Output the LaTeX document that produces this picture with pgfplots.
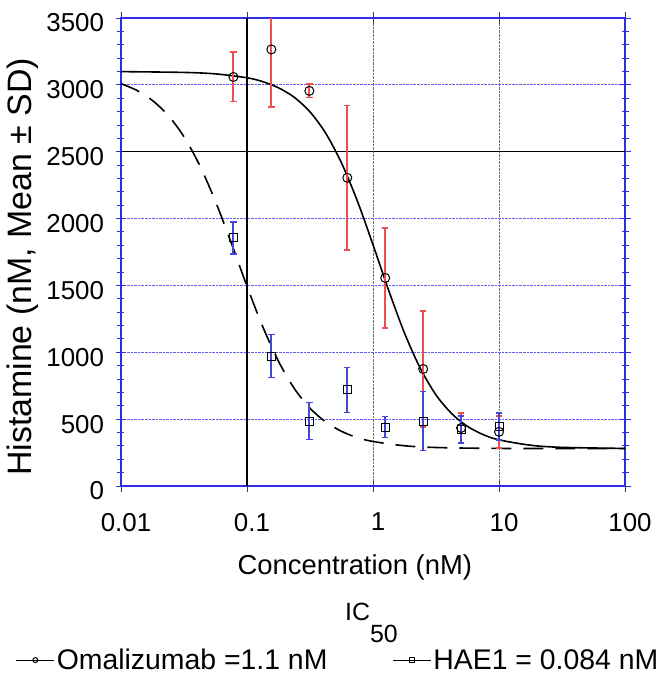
\documentclass[border=0pt]{standalone}
\usepackage{pgfplots}
\pgfplotsset{compat=1.18}
\usepackage{pgfplotstable}
\usepackage{fontspec}
\setmainfont{Liberation Sans}
\definecolor{axblue}{RGB}{45,45,225}
\definecolor{gridblue}{RGB}{95,95,235}
\definecolor{errred}{RGB}{235,80,80}
\definecolor{errblue}{RGB}{70,70,215}

% concentration, mean, SD
\pgfplotstableread{
x      y     e
0.078  3059  185
0.156  3265  430
0.3125 2955  50
0.625  2305  540
1.25   1556  375
2.5    875   434
5      434   112
10     405   120
}\omal

\pgfplotstableread{
x      y     e
0.078  1855  120
0.156  972   160
0.3125 486   140
0.625  718   170
1.25   441   80
2.5    486   220
5      422   100
10     445   100
}\haeone

\begin{document}
\begin{tikzpicture}
\path[use as bounding box] (-121bp,-189bp) rectangle (538bp,486bp);
\begin{axis}[
  at={(0,0)}, anchor=south west,
  scale only axis, width=504bp, height=468bp,
  xmode=log, xmin=0.01, xmax=100, ymin=0, ymax=3500,
  xtick={0.01,0.1,1,10,100}, xticklabels={0.01,0.1,1,10,100},
  ytick={0,500,...,3500},
  minor y tick num=4,
  minor x tick style={draw=none},
  axis line style={axblue, line width=1.5bp},
  tick style={axblue, line width=0.9bp},
  major tick length=11bp, minor tick length=7bp,
  tick align=center,
  grid=major,
  major grid style={gridblue, densely dotted, line width=1bp},
  /pgf/number format/1000 sep={},
  /pgf/number format/assume math mode=true,
  ticklabel style={font=\fontsize{26}{30}\selectfont},
  xticklabel style={xshift=5bp, yshift=-18bp},
  yticklabel style={yshift=-5bp, xshift=-8bp},
  xlabel={Concentration (nM)},
  ylabel={Histamine (nM, Mean \textpm{} SD)},
  xlabel style={font=\fontsize{27.5}{30}\selectfont, at={(axis description cs:0.464,-0.173)}, anchor=center},
  ylabel style={font=\fontsize{34}{36}\selectfont, at={(axis description cs:-0.194,0.468)}, anchor=center},
  legend style={at={(axis description cs:-0.215,-0.372)}, anchor=west, draw=none, fill=none,
    font=\fontsize{28.5}{31}\selectfont, legend columns=2,
    /tikz/every even column/.append style={column sep=63bp}},
  legend cell align=left,
  legend image code/.code={\draw[mark repeat=2,mark phase=2,#1] plot coordinates {(0bp,0bp) (19bp,0bp) (38bp,0bp)};},
]
% reference lines
\addplot[forget plot, black, line width=1.3bp] coordinates {(0.1,0) (0.1,3500)};
\addplot[forget plot, black, line width=1.3bp] coordinates {(0.01,2500) (100,2500)};

% fitted curves
\addplot[forget plot, black, line width=1.6bp, smooth] coordinates {
(0.01,3099) (0.03162,3093) (0.05623,3082) (0.1,3053) (0.1334,3024) (0.1778,2978)
(0.2371,2907) (0.3162,2798) (0.4217,2638) (0.5623,2416) (0.7499,2134) (1,1804)
(1.334,1461) (1.778,1144) (2.371,881) (3.162,681) (4.217,541) (5.623,446)
(7.499,384) (10,345) (17.78,305) (31.62,289) (100,281)};
\addplot[forget plot, black, line width=1.6bp, smooth, dash pattern=on 20bp off 12bp] coordinates {
(0.01,3009) (0.01334,2959) (0.01778,2883) (0.02371,2771) (0.03162,2612) (0.04217,2397)
(0.05623,2128) (0.07499,1818) (0.1,1494) (0.1334,1191) (0.1778,933) (0.2371,730)
(0.3162,582) (0.4217,479) (0.5623,409) (0.7499,362) (1,333) (1.778,301) (3.162,288)
(10,281) (100,280)};

% data with SD bars
\addplot[forget plot, only marks, mark=o, mark size=4.5bp,
  mark options={black, line width=1bp, fill=none},
  error bars/.cd, y dir=both, y explicit,
  error bar style={draw=errred, line width=1.9bp},
  error mark options={rotate=90, draw=errred, mark size=3.2bp, line width=1.5bp}]
  table[x=x, y=y, y error=e] {\omal};
\addplot[forget plot, only marks, mark=square, mark size=4bp,
  mark options={black, line width=1bp, fill=none},
  error bars/.cd, y dir=both, y explicit,
  error bar style={draw=errblue, line width=1.9bp},
  error mark options={rotate=90, draw=errblue, mark size=3.2bp, line width=1.5bp}]
  table[x=x, y=y, y error=e] {\haeone};

\addlegendimage{black, line width=1bp, mark=o, mark size=2.5bp, mark options={fill=none}}
\addlegendentry{Omalizumab =1.1 nM}
\addlegendimage{black, line width=1bp, mark=square, mark size=2.5bp, mark options={fill=none}}
\addlegendentry{HAE1 = 0.084 nM}
\end{axis}
\node[anchor=base west, font=\fontsize{25}{28}\selectfont, inner sep=0pt] at (224bp,-134bp) {IC\raisebox{-22bp}{50}};
\end{tikzpicture}
\end{document}
